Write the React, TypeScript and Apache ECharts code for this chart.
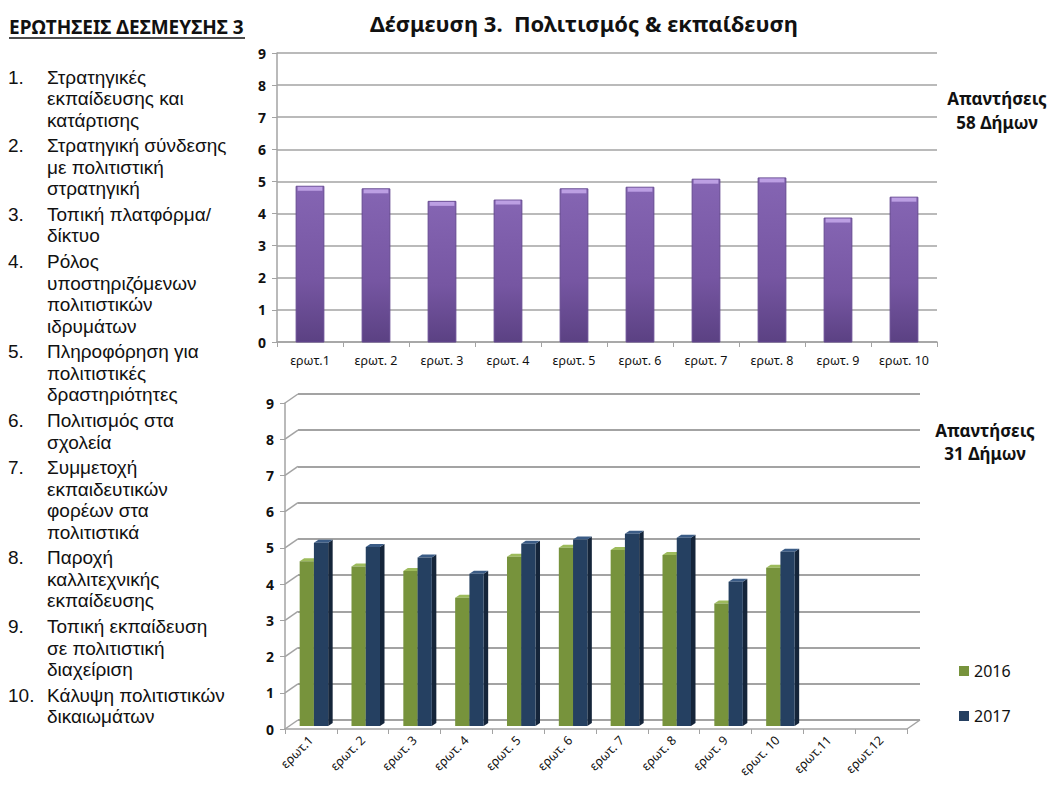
import React, { useEffect, useRef } from "react";
import * as echarts from "echarts";

const FONT = '"Noto Sans", "Open Sans", sans-serif';
const LIST_FONT = '"Liberation Sans", "Noto Sans", sans-serif';

const titleText = "Δέσμευση 3.  Πολιτισμός & εκπαίδευση";
const headerText = "ΕΡΩΤΗΣΕΙΣ ΔΕΣΜΕΥΣΗΣ 3";
const topNote = ["Απαντήσεις", "58 Δήμων"];
const bottomNote = ["Απαντήσεις", "31 Δήμων"];

const questionNumbers = ["1.", "2.", "3.", "4.", "5.", "6.", "7.", "8.", "9.", "10."];
const questionLines = [
  ["Στρατηγικές", "εκπαίδευσης και", "κατάρτισης"],
  ["Στρατηγική σύνδεσης", "με πολιτιστική", "στρατηγική"],
  ["Τοπική πλατφόρμα/", "δίκτυο"],
  ["Ρόλος", "υποστηριζόμενων", "πολιτιστικών", "ιδρυμάτων"],
  ["Πληροφόρηση για", "πολιτιστικές", "δραστηριότητες"],
  ["Πολιτισμός στα", "σχολεία"],
  ["Συμμετοχή", "εκπαιδευτικών", "φορέων στα", "πολιτιστικά"],
  ["Παροχή", "καλλιτεχνικής", "εκπαίδευσης"],
  ["Τοπική εκπαίδευση", "σε πολιτιστική", "διαχείριση"],
  ["Κάλυψη πολιτιστικών", "δικαιωμάτων"],
];

const topCategories = ["ερωτ.1", "ερωτ. 2", "ερωτ. 3", "ερωτ. 4", "ερωτ. 5", "ερωτ. 6", "ερωτ. 7", "ερωτ. 8", "ερωτ. 9", "ερωτ. 10"];
const topValues = [4.85, 4.77, 4.38, 4.42, 4.77, 4.82, 5.07, 5.11, 3.86, 4.51];

const bottomCategories = ["ερωτ.1", "ερωτ. 2", "ερωτ. 3", "ερωτ. 4", "ερωτ. 5", "ερωτ. 6", "ερωτ. 7", "ερωτ. 8", "ερωτ. 9", "ερωτ. 10", "ερωτ.11", "ερωτ.12"];
const values2016 = [4.55, 4.4, 4.28, 3.54, 4.67, 4.92, 4.86, 4.72, 3.38, 4.37];
const values2017 = [5.06, 4.94, 4.65, 4.2, 5.03, 5.15, 5.31, 5.2, 3.98, 4.81];
const seriesNames = ["2016", "2017"];
const yTicks = [0, 1, 2, 3, 4, 5, 6, 7, 8, 9];

const GRID_GREY = "#a3a3a3";
const DX = 13;
const DY = -9;

function txt(text: string, x: number, y: number, font: string, align = "left", lh = 20, vAlign = "middle") {
  return {
    type: "text",
    x,
    y,
    style: { text, font, fill: "#111", align, verticalAlign: vAlign, lineHeight: lh },
  };
}

function buildOption() {
  const graphics: any[] = [];
  graphics.push(txt(titleText, 370, 23, `bold 22px ${FONT}`, "left", 26));
  graphics.push(txt(headerText, 9, 27, `bold 19px ${FONT}`, "left", 22));
  graphics.push({
    type: "line",
    shape: { x1: 9, y1: 38, x2: 245, y2: 38 },
    style: { stroke: "#111", lineWidth: 1.3 },
  });
  let y = 77;
  const LH = 21.5;
  questionLines.forEach((lines, i) => {
    const y0 = y - LH / 2;
    graphics.push(txt(questionNumbers[i], 8, y0, `19px ${LIST_FONT}`, "left", LH, "top"));
    graphics.push(txt(lines.join("\n"), 47, y0, `19px ${LIST_FONT}`, "left", LH, "top"));
    y += lines.length * LH + 4.2;
  });
  topNote.forEach((t, k) => {
    graphics.push(txt(t, 997, 98 + k * 24, `bold 17px ${FONT}`, "center", 20));
  });
  bottomNote.forEach((t, k) => {
    graphics.push(txt(t, 985, 430 + k * 23, `bold 17px ${FONT}`, "center", 20));
  });

  const axisLabelY = { fontFamily: FONT, fontWeight: "bold" as const, fontSize: 14, color: "#111", margin: 11 };

  const colors3d = [
    { front: "#77933c", top: "#9dbb5c", side: "#5a7130" },
    { front: "#254061", top: "#3b5c86", side: "#15253a" },
  ];

  const make3d = (si: number) => (params: any, api: any) => {
    const idx = api.value(0);
    const v = api.value(1);
    const base = api.coord([idx, 0]);
    const top = api.coord([idx, v]);
    const band = api.size([1, 0])[0];
    const bw = band * 0.275;
    const cx = base[0];
    const x0 = si === 0 ? cx - bw + 3 : cx + 3;
    const oy = -3;
    const yt = top[1] + oy;
    const yb = base[1] + oy;
    const dx = 4.5;
    const dy = -3;
    const c = colors3d[si];
    return {
      type: "group",
      children: [
        {
          type: "polygon",
          shape: { points: [[x0 + bw, yt], [x0 + bw + dx, yt + dy], [x0 + bw + dx, yb + dy], [x0 + bw, yb]] },
          style: { fill: c.side },
        },
        {
          type: "polygon",
          shape: { points: [[x0, yt], [x0 + dx, yt + dy], [x0 + bw + dx, yt + dy], [x0 + bw, yt]] },
          style: { fill: c.top },
        },
        {
          type: "rect",
          shape: { x: x0, y: yt, width: bw, height: yb - yt },
          style: { fill: c.front },
        },
      ],
    };
  };

  return {
    animation: false,
    backgroundColor: "#ffffff",
    textStyle: { fontFamily: FONT },
    graphic: graphics,
    legend: {
      data: seriesNames,
      orient: "vertical",
      left: 954,
      top: 658,
      itemWidth: 10,
      itemHeight: 10,
      itemGap: 29,
      icon: "rect",
      textStyle: { fontFamily: FONT, fontSize: 16, color: "#111" },
    },
    grid: [
      { left: 277, top: 53, width: 660, height: 289 },
      { left: 285, top: 403, width: 622, height: 326 },
      { left: 285 + DX, top: 403 + DY, width: 622, height: 326 },
    ],
    xAxis: [
      {
        type: "category",
        gridIndex: 0,
        data: topCategories,
        axisLine: { lineStyle: { color: GRID_GREY, width: 1.5 } },
        axisTick: { show: true, length: 5, lineStyle: { color: GRID_GREY } },
        axisLabel: { fontFamily: FONT, fontSize: 12.5, color: "#111", margin: 12, interval: 0 },
      },
      {
        type: "category",
        gridIndex: 1,
        data: bottomCategories,
        axisLine: { lineStyle: { color: GRID_GREY, width: 1.5 } },
        axisTick: { show: true, length: 5, lineStyle: { color: GRID_GREY } },
        axisLabel: { fontFamily: FONT, fontSize: 12.5, color: "#111", rotate: 45, margin: 9, interval: 0 },
      },
      {
        type: "value",
        gridIndex: 2,
        min: 0,
        max: 1,
        show: false,
      },
    ],
    yAxis: [
      {
        type: "value",
        gridIndex: 0,
        min: 0,
        max: 9,
        interval: 1,
        axisLine: { show: true, lineStyle: { color: GRID_GREY, width: 1.5 } },
        axisTick: { show: true, length: 5, lineStyle: { color: GRID_GREY } },
        axisLabel: axisLabelY,
        splitLine: { lineStyle: { color: GRID_GREY, width: 1.5 } },
      },
      {
        type: "value",
        gridIndex: 1,
        min: 0,
        max: 9,
        interval: 1,
        axisLine: { show: true, lineStyle: { color: GRID_GREY, width: 1.5 } },
        axisTick: { show: true, length: 5, lineStyle: { color: GRID_GREY } },
        axisLabel: axisLabelY,
        splitLine: { show: false },
      },
      {
        type: "value",
        gridIndex: 2,
        min: 0,
        max: 9,
        interval: 1,
        axisLine: { show: false },
        axisTick: { show: false },
        axisLabel: { show: false },
        splitLine: { show: true, lineStyle: { color: GRID_GREY, width: 1.8 } },
      },
    ],
    series: [
      {
        type: "custom",
        name: "top",
        xAxisIndex: 0,
        yAxisIndex: 0,
        data: topValues.map((v, i) => [i, v]),
        encode: { x: 0, y: 1 },
        renderItem: (params: any, api: any) => {
          const idx = api.value(0);
          const v = api.value(1);
          const base = api.coord([idx, 0]);
          const top = api.coord([idx, v]);
          const bw = api.size([1, 0])[0] * 0.42;
          const x0 = base[0] - bw / 2;
          return {
            type: "group",
            children: [
              {
                type: "rect",
                shape: { x: x0, y: top[1], width: bw, height: base[1] - top[1] },
                style: {
                  fill: new echarts.graphic.LinearGradient(0, 0, 0, 1, [
                    { offset: 0, color: "#8565b3" },
                    { offset: 0.6, color: "#7656a2" },
                    { offset: 1, color: "#5b4183" },
                  ]),
                  stroke: "#654990",
                  lineWidth: 1,
                },
              },
              {
                type: "rect",
                shape: { x: x0 + 1.5, y: top[1] + 0.5, width: bw - 3, height: 4 },
                style: { fill: "#bc9fe3" },
              },
            ],
          };
        },
      },
      {
        type: "custom",
        name: "ticks3d",
        xAxisIndex: 1,
        yAxisIndex: 1,
        data: yTicks.map((t) => [0, t]),
        encode: { x: 0, y: 1 },
        silent: true,
        renderItem: (params: any, api: any) => {
          const v = api.value(1);
          const p = api.coord([0, v]);
          const cs = params.coordSys;
          const children: any[] = [
            {
              type: "line",
              shape: { x1: cs.x, y1: p[1], x2: cs.x + DX, y2: p[1] + DY },
              style: { stroke: GRID_GREY, lineWidth: 1.5 },
            },
          ];
          if (v === 0) {
            children.push({
              type: "line",
              shape: { x1: cs.x + cs.width, y1: p[1], x2: cs.x + cs.width + DX, y2: p[1] + DY },
              style: { stroke: GRID_GREY, lineWidth: 1.5 },
            });
          }
          return { type: "group", children };
        },
      },
      {
        type: "custom",
        name: seriesNames[0],
        xAxisIndex: 1,
        yAxisIndex: 1,
        itemStyle: { color: colors3d[0].front },
        data: values2016.map((v, i) => [i, v]),
        encode: { x: 0, y: 1 },
        renderItem: make3d(0),
      },
      {
        type: "custom",
        name: seriesNames[1],
        xAxisIndex: 1,
        yAxisIndex: 1,
        itemStyle: { color: colors3d[1].front },
        data: values2017.map((v, i) => [i, v]),
        encode: { x: 0, y: 1 },
        renderItem: make3d(1),
      },
    ],
  };
}

export default function App() {
  const ref = useRef<HTMLDivElement>(null);
  useEffect(() => {
    if (!ref.current) return;
    const chart = echarts.init(ref.current, undefined, { renderer: "svg" });
    chart.setOption(buildOption() as any);
    return () => chart.dispose();
  }, []);
  return (
    <div
      ref={ref}
      style={{ position: "absolute", left: 0, top: 0, width: 1047, height: 785, background: "#fff" }}
    />
  );
}
